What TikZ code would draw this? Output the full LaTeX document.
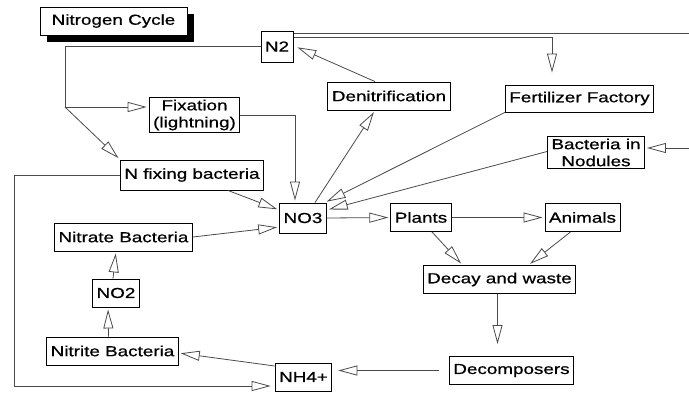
\documentclass[tikz,border=0pt]{standalone}
\usepackage{fontspec}
\usetikzlibrary{arrows.meta,shadows}
\newfontfamily\diafont[FakeStretch=1.3,FakeBold=0.7]{Liberation Sans}
\definecolor{LinkGray}{HTML}{4A4A4A}

\begin{document}
\begin{tikzpicture}[x=1pt,y=-1pt,
  box/.style={draw,line width=0.9pt,fill=white,inner xsep=4pt,inner ysep=2pt,
    minimum height=28pt,align=center,
    font=\diafont\fontsize{14.5}{17}\selectfont},
  lnk/.style={LinkGray,line width=0.8pt},
  arr/.style={lnk,-{Triangle[open,length=19pt,width=10pt]},shorten >=2pt}]
  \useasboundingbox (0,0) rectangle (689,392);
  % title
  \node[box,minimum width=147pt,drop shadow={shadow xshift=7pt,shadow yshift=-7pt,
    fill=black,opacity=1}] (title) at (113.5,21) {Nitrogen Cycle};
  % boxes
  \node[box,minimum height=31pt] (n2)   at (277,46.5)  {N2};
  \node[box] (fix)    at (194.5,115) {Fixation\\(lightning)};
  \node[box,minimum height=30pt] (nfix) at (192,175)   {N fixing bacteria};
  \node[box] (denit)  at (389,96)    {Denitrification};
  \node[box,minimum height=27pt] (fert) at (579.5,98.5) {Fertilizer Factory};
  \node[box] (nod)    at (596,152.5) {Bacteria in\\Nodules};
  \node[box,minimum height=30pt] (no3)  at (303,218)   {NO3};
  \node[box] (plants) at (421,217.5) {Plants};
  \node[box] (anim)   at (582.5,217.5) {Animals};
  \node[box] (decay)  at (499.5,279.5) {Decay and waste};
  \node[box] (decomp) at (511.5,370.5) {Decomposers};
  \node[box] (nh4)    at (303.5,377) {NH4+};
  \node[box] (nitrate) at (123.5,237) {Nitrate Bacteria};
  \node[box] (no2)    at (116,293)   {NO2};
  \node[box] (nitrite) at (112.5,351) {Nitrite Bacteria};
  % bends
  \coordinate (split) at (65,107);
  \coordinate (topA)  at (695,33);
  \coordinate (topB)  at (552,37);
  \coordinate (rgt)   at (695,148);
  \coordinate (lft)   at (14,386);
  % N2 outputs
  \draw[lnk] (n2.west) -| (split);
  \draw[arr] (split) -- (split -| fix.west);
  \draw[arr] (split) -- (nfix.north west);
  \draw[lnk] (n2.east |- topA) -- (topA) -- (rgt);
  \draw[arr] (rgt) -- (nod.east |- rgt);
  \draw[arr] (n2.east |- topB) -- (topB) -- ([yshift=10pt]topB |- fert.north);
  % into NO3
  \draw[arr] (fix.east) -| ([xshift=-8pt]no3.north);
  \draw[arr] ([xshift=36pt]nfix.south) -- ([yshift=8pt]no3.west);
  \draw[arr] (nitrate.east) -- ([yshift=-9pt]no3.west);
  \draw[arr] (fert.south west) -- ([xshift=-2pt]no3.north east);
  \draw[arr] ([yshift=1pt]nod.west) -- ([yshift=8pt]no3.east);
  % denitrification
  \draw[arr] ([xshift=12pt]no3.north) -- ([xshift=-14pt]denit.south);
  \draw[arr] ([xshift=-14pt]denit.north) -- ([xshift=2pt]n2.east);
  % food chain
  \draw[arr] (no3.east) -- (plants.west);
  \draw[arr] (plants.east) -- (anim.west);
  \draw[arr] ([xshift=11pt]plants.south) -- ([xshift=-37pt]decay.north);
  \draw[arr] ([xshift=-12pt]anim.south) -- ([xshift=29pt]decay.north);
  \draw[arr,shorten >=12pt] ([xshift=-2pt]decay.south) -- ([xshift=-2pt]decay.south |- decomp.north);
  \draw[arr,shorten <=10pt,shorten >=6pt] (decomp.west) -- (decomp.west -| nh4.east);
  % nitrification
  \draw[arr] ([yshift=11pt]nh4.west) -- ([yshift=-2pt]nitrite.east);
  \draw[arr] ([xshift=-4pt]nitrite.north) -- ([xshift=-8pt]no2.south);
  \draw[arr] ([xshift=-3pt]no2.north) -- (no2.north |- nitrate.south);
  \draw[arr,shorten >=4pt] (nfix.west) -| (lft) -- (lft -| nh4.west);
\end{tikzpicture}
\end{document}
